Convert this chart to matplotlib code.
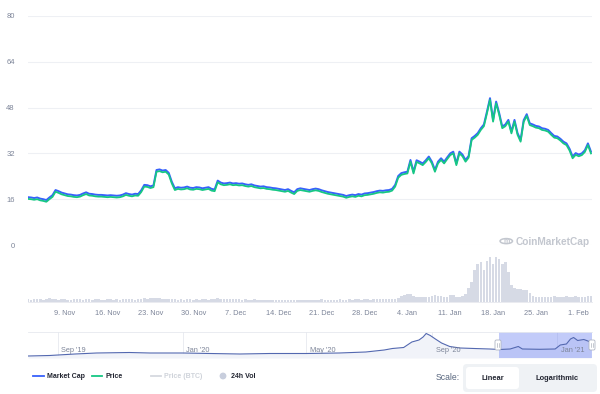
import matplotlib
matplotlib.use('Agg')
import matplotlib.pyplot as plt
from matplotlib.patches import FancyBboxPatch, Circle
import matplotlib.dates as mdates
import pandas as pd

plt.rcParams['font.family'] = ['Liberation Sans', 'DejaVu Sans']

# ---------------- data ----------------
start_date = '2020-11-03'
step = '12h'
price = [
    16.1, 16.0, 15.8, 16.0, 15.6, 15.4, 15.1, 16.0, 16.8, 18.6,
    18.2, 17.7, 17.4, 17.1, 17.0, 16.8, 16.7, 16.9, 17.4, 17.8,
    17.3, 17.2, 17.0, 16.9, 16.9, 16.8, 16.7, 16.8, 16.7, 16.6,
    16.7, 17.0, 17.5, 17.2, 17.0, 17.3, 17.2, 18.5, 20.4, 20.3,
    19.9, 20.2, 25.6, 25.8, 25.4, 25.6, 24.6, 21.5, 19.2, 19.6,
    19.4, 19.5, 19.8, 19.4, 19.3, 19.6, 19.5, 19.2, 19.4, 19.6,
    19.0, 18.8, 21.9, 21.2, 20.9, 21.0, 21.2, 20.9, 21.0, 20.8,
    20.9, 20.6, 20.4, 20.6, 20.2, 20.0, 19.8, 19.9, 19.6, 19.5,
    19.3, 19.2, 19.0, 18.8, 18.6, 18.9, 18.3, 17.8, 18.9, 19.2,
    19.0, 18.8, 18.6, 18.9, 19.1, 18.9, 18.5, 18.2, 17.9, 17.7,
    17.5, 17.3, 17.1, 16.9, 16.5, 16.8, 17.0, 16.8, 17.2, 17.0,
    17.4, 17.5, 17.7, 17.9, 18.2, 18.4, 18.3, 18.5, 18.6, 19.0,
    20.4, 23.5, 24.5, 24.8, 25.0, 29.1, 25.0, 29.0, 28.5, 27.9,
    29.0, 30.3, 28.5, 25.6, 28.5, 29.7, 28.5, 30.0, 31.4, 32.0,
    27.9, 32.0, 31.0, 29.1, 30.5, 36.7, 37.5, 38.5, 40.2, 41.5,
    46.0, 50.7, 43.1, 49.5, 45.5, 40.8, 41.5, 43.1, 39.0, 43.1,
    38.5, 36.1, 43.0, 45.1, 41.9, 41.5, 41.0, 40.8, 40.2, 40.0,
    39.6, 38.5, 37.5, 37.3, 36.5, 35.5, 34.9, 33.0, 30.3, 31.5,
    31.0, 31.4, 32.5, 34.9, 32.0,
]
# market cap shown in price-equivalent units (its own hidden axis)
market_cap = list(price)

volume = [
    6, 5, 6, 7, 6, 5, 7, 8, 6, 6, 5, 6, 6, 5, 5, 6, 7, 6, 5, 6,
    6, 5, 6, 6, 5, 5, 6, 6, 5, 6, 5, 6, 7, 6, 6, 5, 6, 7, 8, 7,
    8, 9, 9, 8, 7, 7, 6, 6, 6, 5, 6, 5, 6, 6, 5, 6, 5, 6, 6, 5,
    6, 6, 8, 7, 7, 6, 6, 7, 6, 6,
    5, 6, 5, 5, 6, 5, 4, 5, 5, 4, 5, 4, 4, 5, 4, 5, 5, 4, 5, 5,
    4, 5, 5, 4, 5, 5, 6, 5, 5, 4, 5, 5, 6, 5, 5, 6, 5, 6, 6, 5,
    6, 6, 5, 6, 6, 7, 6, 6, 7, 7,
    7, 9, 13, 16, 18, 17, 14, 11, 10, 10, 11, 12, 14, 15, 14, 13, 10, 11, 15, 16,
    12, 11, 14, 18, 30, 44, 71, 85, 89, 71, 90, 100, 84, 100, 95, 84, 89, 67, 38, 32,
    29, 29, 27, 27, 20, 14, 12, 12,
    11, 12, 11, 12, 13, 12, 11, 12, 13, 12, 12, 13, 12, 11, 12, 13, 13,
]

nav_dates = ['2019-08-03', '2019-08-24', '2019-09-18', '2019-10-09', '2019-11-10',
             '2019-11-30', '2020-01-01', '2020-01-28', '2020-02-26', '2020-03-26',
             '2020-05-01', '2020-06-02', '2020-06-28', '2020-07-16', '2020-07-24',
             '2020-08-04', '2020-08-12', '2020-08-19', '2020-08-23', '2020-08-26',
             '2020-08-30', '2020-09-04', '2020-09-10', '2020-09-18', '2020-09-28',
             '2020-10-12', '2020-10-27', '2020-11-06', '2020-11-16', '2020-11-24',
             '2020-11-28', '2020-12-15', '2020-12-30', '2021-01-04', '2021-01-10',
             '2021-01-14', '2021-01-17', '2021-01-21', '2021-01-27', '2021-01-31',
             '2021-02-03']
nav_values = [2.0, 2.5, 4.0, 5.0, 5.5, 5.0, 5.0, 4.5, 4.0, 4.5,
              4.5, 5.0, 6.0, 8.0, 9.5, 10.5, 16.0, 18.0, 21.0, 24.5,
              22.5, 19.0, 15.0, 11.5, 10.0, 9.5, 9.0, 8.5, 9.0, 11.5,
              9.0, 8.7, 9.0, 13.0, 14.0, 19.0, 20.5, 17.5, 18.5, 17.0,
              15.5]

y_ticks = [0, 16, 32, 48, 64, 80]
x_tick_dates = ['2020-11-09', '2020-11-16', '2020-11-23', '2020-11-30', '2020-12-07',
                '2020-12-14', '2020-12-21', '2020-12-28', '2021-01-04', '2021-01-11',
                '2021-01-18', '2021-01-25', '2021-02-01']
x_tick_labels = ['9. Nov', '16. Nov', '23. Nov', '30. Nov', '7. Dec', '14. Dec',
                 '21. Dec', '28. Dec', '4. Jan', '11. Jan', '18. Jan', '25. Jan', '1. Feb']
nav_tick_dates = ['2019-09-01', '2020-01-01', '2020-05-01', '2020-09-01', '2021-01-01']
nav_tick_labels = ["Sep '19", "Jan '20", "May '20", "Sep '20", "Jan '21"]
nav_range = ('2019-08-03', '2021-02-04')
nav_selection = ('2020-11-05', '2021-02-04')

# ---------------- styling ----------------
W, H = 600, 394
BLUE = '#3861fb'
GREEN = '#16c784'
GRID = '#eef0f4'
TICK = '#7d8599'
DARK = '#222531'

fig = plt.figure(figsize=(W / 100, H / 100), dpi=100)


def box(x0, y0, x1, y1):
    return [x0 / W, 1 - y1 / H, (x1 - x0) / W, (y1 - y0) / H]


t = pd.date_range(start_date, periods=len(price), freq=step)
xlo = pd.Timestamp(start_date)
xhi = t[-1] + pd.Timedelta(hours=4)

# main price axes
ax = fig.add_axes(box(28, 16, 592, 245))
ax.set_xlim(xlo, xhi)
ax.set_ylim(0, 80)
ax.set_yticks(y_ticks)
ax.set_yticklabels([str(v) for v in y_ticks])
ax.tick_params(axis='y', length=0, pad=9.5, labelsize=5.5, labelcolor=TICK)
ax.set_xticks([])
for s in ax.spines.values():
    s.set_visible(False)
ax.grid(axis='y', color=GRID, lw=0.8)
ax.set_axisbelow(True)

ax_mc = ax.twinx()
ax_mc.set_ylim(-0.6, 79.4)
ax_mc.axis('off')
ax_mc.plot(t, market_cap, color=BLUE, lw=1.4, zorder=2)
ax2 = ax.twinx()
ax2.set_ylim(0, 80)
ax2.axis('off')
ax2.plot(t, price, color=GREEN, lw=1.3, zorder=3)

# watermark
ax.text(0.865, 0.015, 'CoinMarketCap', transform=ax.transAxes, fontsize=7.3,
        color='#c3c7cf', fontweight='bold', va='center', ha='left')
ax.add_patch(Circle((0.848, 0.017), 0.011, transform=ax.transAxes, fill=False,
                    ec='#c3c7cf', lw=1.1))
ax.text(0.848, 0.017, 'm', transform=ax.transAxes, fontsize=5, color='#c3c7cf',
        ha='center', va='center', fontweight='bold')

# volume axes
axv = fig.add_axes(box(28, 255, 592, 302))
axv.set_xlim(xlo, xhi)
axv.set_ylim(0, 104)
axv.bar(t, volume, width=0.42, color='#d6dae5', align='center', linewidth=0)
axv.set_yticks([])
axv.set_xticks(pd.to_datetime(x_tick_dates))
axv.set_xticklabels(x_tick_labels)
axv.tick_params(axis='x', length=0, pad=6, labelsize=5.3, labelcolor=TICK)
for k, s in axv.spines.items():
    s.set_visible(k == 'bottom')
axv.spines['bottom'].set_color('#e6e8ee')
axv.spines['bottom'].set_linewidth(0.6)

# navigator
axn = fig.add_axes(box(28, 332, 592, 358))
nd = pd.to_datetime(nav_dates)
axn.set_xlim(pd.Timestamp(nav_range[0]), pd.Timestamp(nav_range[1]))
axn.set_ylim(0, 26)
axn.fill_between(nd, nav_values, 0, color='#f1f3f9', lw=0)
axn.plot(nd, nav_values, color='#5368b0', lw=0.8)
for d, lab in zip(pd.to_datetime(nav_tick_dates), nav_tick_labels):
    axn.axvline(d, color='#e6e9ef', lw=0.6, zorder=0)
    axn.annotate(lab, (mdates.date2num(d), 0), xycoords=('data', 'axes fraction'),
                 xytext=(2.5, 3), textcoords='offset points', fontsize=5.3,
                 color=TICK, ha='left', va='bottom')
axn.axvspan(pd.Timestamp(nav_selection[0]), pd.Timestamp(nav_selection[1]),
            color='#6f85f3', alpha=0.42, lw=0)
axn.set_xticks([])
axn.set_yticks([])
for k, s in axn.spines.items():
    s.set_visible(k == 'top')
axn.spines['top'].set_color('#e6e9ef')
axn.spines['top'].set_linewidth(0.6)

# UI overlay in pixel coordinates
ui = fig.add_axes([0, 0, 1, 1])
ui.set_xlim(0, W)
ui.set_ylim(H, 0)
ui.axis('off')
ui.patch.set_alpha(0)

for hx in (498, 592):
    ui.add_patch(FancyBboxPatch((hx - 3, 340), 6, 10, boxstyle='round,pad=0,rounding_size=1.5',
                                fc='white', ec='#b0b6c4', lw=0.6))
    ui.plot([hx - 0.8, hx - 0.8], [343, 347], color='#9aa0ae', lw=0.4)
    ui.plot([hx + 0.8, hx + 0.8], [343, 347], color='#9aa0ae', lw=0.4)

# legend
ly = 376
LFS = 5.0
ui.plot([33, 44], [ly, ly], color=BLUE, lw=1.3)
ui.text(47, ly, 'Market Cap', fontsize=LFS, fontweight='bold', color=DARK, va='center')
ui.plot([92, 102], [ly, ly], color=GREEN, lw=1.3)
ui.text(105, ly, 'Price', fontsize=LFS, fontweight='bold', color=DARK, va='center')
ui.plot([151, 161], [ly, ly], color='#d6d9df', lw=1.3)
ui.text(164, ly, 'Price (BTC)', fontsize=LFS, fontweight='bold', color='#cfd3da', va='center')
ui.add_patch(Circle((223, ly), 3.4, fc='#c8cedd', ec='none'))
ui.text(231, ly, '24h Vol', fontsize=LFS, fontweight='bold', color=DARK, va='center')

# scale buttons
ui.text(436, 378, 'Scale:', fontsize=6.2, color='#58667e', va='center')
ui.add_patch(FancyBboxPatch((463, 364), 134, 28, boxstyle='round,pad=0,rounding_size=4',
                            fc='#eff2f5', ec='none'))
ui.add_patch(FancyBboxPatch((466, 367), 53, 22, boxstyle='round,pad=0,rounding_size=3',
                            fc='white', ec='none'))
ui.text(492.5, 378, 'Linear', fontsize=5.4, fontweight='bold', color=DARK,
        ha='center', va='center')
ui.text(557, 378, 'Logarithmic', fontsize=5.4, fontweight='bold', color=DARK,
        ha='center', va='center')

fig.savefig('out.png', dpi=100)
